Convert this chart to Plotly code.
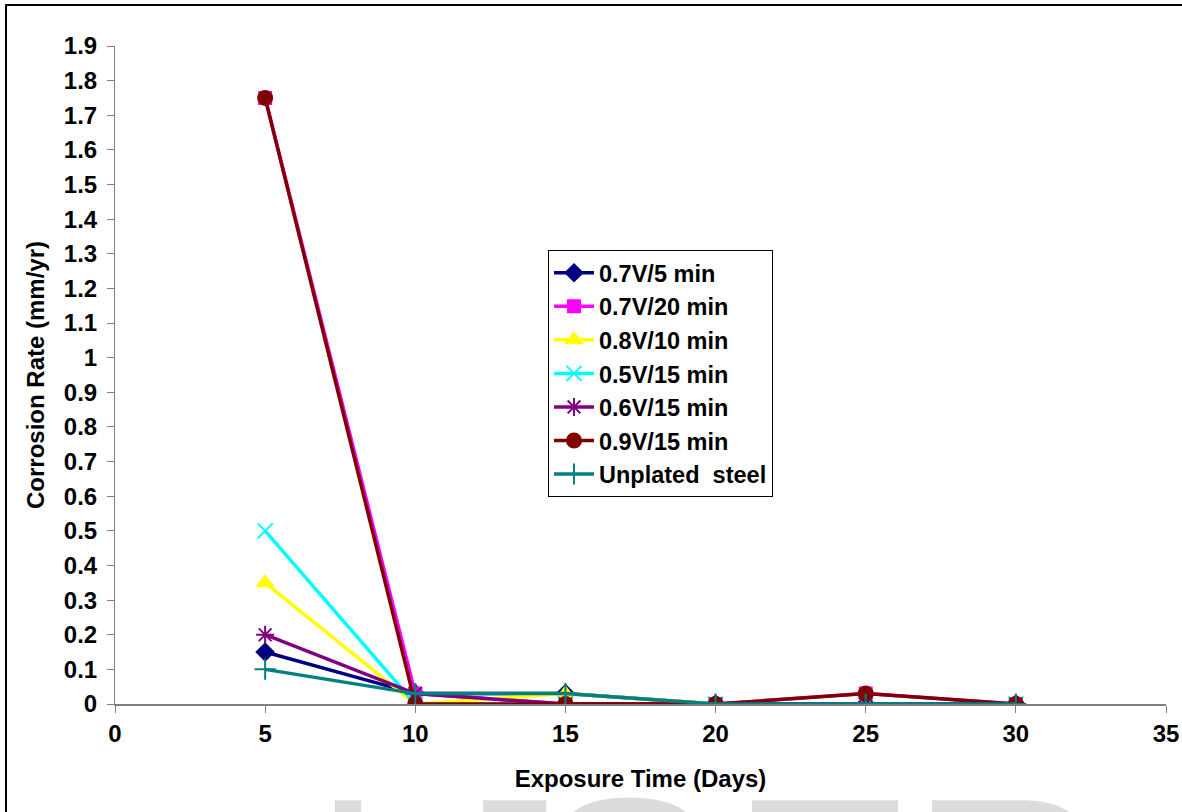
import plotly.graph_objects as go

days = [5, 10, 15, 20, 25, 30]
series_names = ["0.7V/5 min", "0.7V/20 min", "0.8V/10 min", "0.5V/15 min",
                "0.6V/15 min", "0.9V/15 min", "Unplated  steel"]
v_07_5 = [0.15, 0.03, 0.03, 0.0, 0.0, 0.0]
v_07_20 = [1.75, 0.03, 0.0, 0.0, 0.03, 0.0]
v_08_10 = [0.35, 0.0, 0.03, 0.0, 0.0, 0.0]
v_05_15 = [0.50, 0.0, 0.0, 0.0, 0.0, 0.0]
v_06_15 = [0.20, 0.03, 0.0, 0.0, 0.0, 0.0]
v_09_15 = [1.75, 0.0, 0.0, 0.0, 0.03, 0.0]
v_unplated = [0.10, 0.03, 0.03, 0.0, 0.0, 0.0]
values = [v_07_5, v_07_20, v_08_10, v_05_15, v_06_15, v_09_15, v_unplated]
colors = ["#000080", "#FF00FF", "#FFFF00", "#00FFFF", "#800080", "#800000", "#008080"]
symbols = ["diamond", "square", "triangle-up", "x-thin-open", "asterisk-open", "circle", "cross-thin-open"]
sizes = [13, 12, 14, 15, 15, 14, 15]

y_ticks = [round(i * 0.1, 1) for i in range(20)]
y_labels = ["0"] + [f"{v:.1f}" for v in y_ticks[1:10]] + ["1"] + [f"{v:.1f}" for v in y_ticks[11:]]
x_ticks = [0, 5, 10, 15, 20, 25, 30, 35]

FONT = "Liberation Sans, Arial, sans-serif"

fig = go.Figure()

# faint watermark letters at the bottom edge (drawn first, behind everything)
wm_letters = ["I", "J", "S", "E", "R"]
wm_x = [348, 497, 627, 822, 1010]
for ch, px in zip(wm_letters, wm_x):
    fig.add_annotation(text=ch, xref="paper", yref="paper",
                       x=(px - 115) / 1051, y=(704 - 795) / 658,
                       xanchor="center", yanchor="top", showarrow=False,
                       font=dict(family=FONT, size=280, color="#dcdcdc", weight="normal"),
                       yshift=57)

for name, vals, c, s, sz in zip(series_names, values, colors, symbols, sizes):
    fig.add_trace(go.Scatter(
        x=days, y=vals, name=name, mode="lines+markers",
        line=dict(color=c, width=3.5),
        marker=dict(symbol=s, size=sz, color=c, line=dict(color=c, width=2)),
    ))

fig.update_layout(
    width=1182, height=812,
    margin=dict(l=115, r=16, t=46, b=108, autoexpand=False),
    paper_bgcolor="white", plot_bgcolor="white",
    font=dict(family=FONT, color="black", size=24, weight="bold"),
    showlegend=True,
    legend=dict(x=0.412, y=0.69, xanchor="left", yanchor="top",
                bordercolor="black", borderwidth=1, bgcolor="white",
                font=dict(family=FONT, size=23.5, weight="bold", color="black"),
                tracegroupgap=0, itemwidth=40),
    xaxis=dict(range=[0, 35], tickvals=x_ticks, ticks="outside", ticklen=7,
               tickcolor="#808080", showline=True, linecolor="#808080", linewidth=2,
               showgrid=False, zeroline=False, automargin=False,
               tickfont=dict(family=FONT, size=24, weight="bold"),
               title=dict(text="Exposure Time (Days)", standoff=24,
                          font=dict(family=FONT, size=24, weight="bold"))),
    yaxis=dict(range=[0, 1.9], tickvals=y_ticks, ticktext=y_labels, ticks="outside",
               ticklen=7, tickcolor="#808080", showline=True, linecolor="#808080",
               linewidth=1, showgrid=False, zeroline=False, automargin=False,
               ticklabelstandoff=5,
               tickfont=dict(family=FONT, size=24, weight="bold"),
               title=dict(text="Corrosion Rate (mm/yr)", standoff=12,
                          font=dict(family=FONT, size=24, weight="bold"))),
    shapes=[dict(type="rect", xref="paper", yref="paper",
                 x0=-0.1037, x1=1.2, y0=-0.3, y1=1.0623,
                 line=dict(color="black", width=2), fillcolor="rgba(0,0,0,0)")],
)

fig.write_html("out.html")
